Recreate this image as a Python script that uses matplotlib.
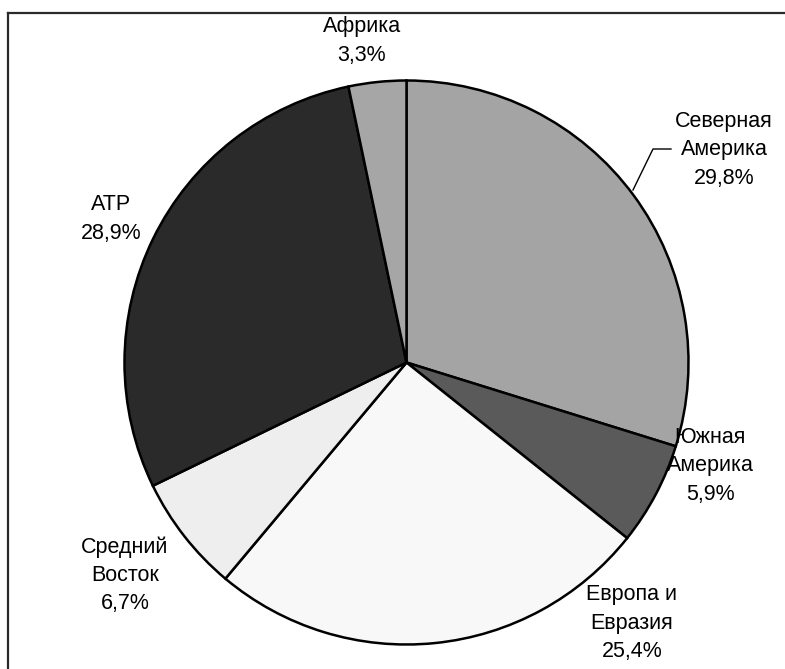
import matplotlib.pyplot as plt

plt.rcParams['font.family'] = ['Liberation Sans', 'DejaVu Sans']

labels = ['Северная\nАмерика', 'Южная\nАмерика', 'Европа и\nЕвразия',
          'Средний\nВосток', 'АТР', 'Африка']
shares = [29.8, 5.9, 25.4, 6.7, 28.9, 3.3]
colors = ['#a4a4a4', '#5a5a5a', '#f8f8f8', '#eeeeee', '#2a2a2a', '#a6a6a6']

# label centres in pixel coords (x, y from top)
label_pos = [(724, 150), (710, 466), (632, 623), (125, 575), (111, 219), (362, 41)]

W, H = 785, 669
fig = plt.figure(figsize=(W / 100, H / 100), dpi=100)
ax = fig.add_axes([0, 0, 1, 1])

ax.pie(shares, colors=colors, startangle=90, counterclock=False,
       center=(406.5, H - 362.5), radius=282, frame=True,
       wedgeprops=dict(edgecolor='black', linewidth=1.8))
ax.set_xlim(0, W)
ax.set_ylim(0, H)
ax.set_aspect('equal')
ax.axis('off')

for lab, val, (x, y) in zip(labels, shares, label_pos):
    txt = lab + '\n' + f'{val:.1f}'.replace('.', ',') + '%'
    ax.text(x, H - y, txt, ha='center', va='center', fontsize=15.5,
            linespacing=1.45, color='black')

# leader line for Северная Америка
ax.plot([671, 653, 633], [H - 149, H - 149, H - 190], color='black', lw=1)

# frame (only top and left edges visible)
ax.plot([7.5, W], [H - 12.5, H - 12.5], color='#2a2a2a', lw=1.6, clip_on=False)
ax.plot([7.5, 7.5], [H - 12.5, 0], color='#2a2a2a', lw=1.6, clip_on=False)

plt.savefig('out.png', dpi=100)
